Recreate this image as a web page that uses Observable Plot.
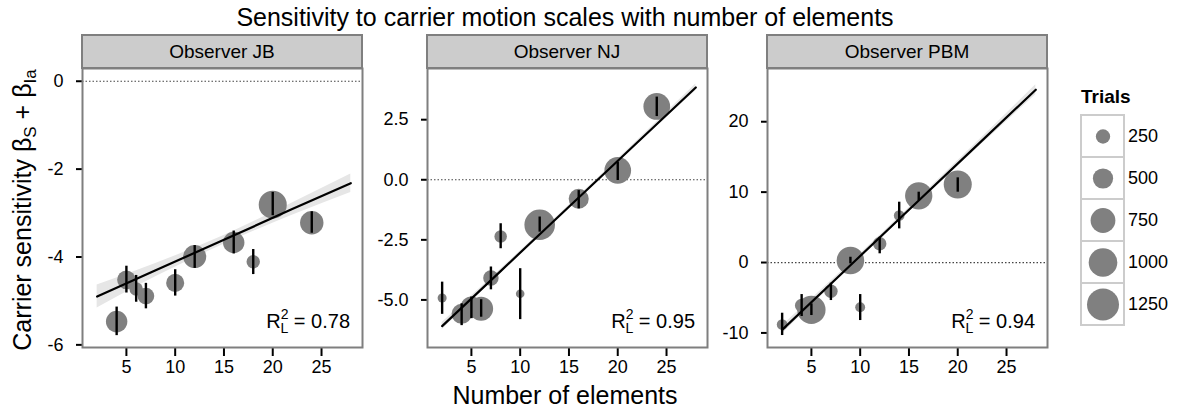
<!DOCTYPE html>
<html>
<head>
<meta charset="utf-8">
<script src="https://cdn.jsdelivr.net/npm/d3@7"></script>
<script src="https://cdn.jsdelivr.net/npm/@observablehq/plot@0.6"></script>
<style>
  html, body { margin: 0; padding: 0; background: #fff; }
  #wrap { position: relative; width: 1177px; height: 411px; overflow: hidden; font-family: "Liberation Sans", Arial, Helvetica, sans-serif; color: #000; }
  .abs { position: absolute; }
  #title { left: 0; width: 1130px; top: 3px; text-align: center; font-size: 25px; line-height: 28px; white-space: nowrap; }
  #xtitle { left: 0; width: 1130px; top: 381px; text-align: center; font-size: 25px; line-height: 28px; white-space: nowrap; }
  #ytitle { left: 22px; top: 210px; transform: translate(-50%, -50%) rotate(-90deg); font-size: 25px; line-height: 28px; white-space: nowrap; }
  #ytitle sub { font-size: 17px; vertical-align: -5px; line-height: 0; }
  #legtitle { left: 1081px; top: 86px; font-size: 19px; font-weight: bold; line-height: 22px; }
</style>
</head>
<body>
<div id="wrap">
  <div id="title" class="abs">Sensitivity to carrier motion scales with number of elements</div>
  <div id="xtitle" class="abs">Number of elements</div>
  <div id="ytitle" class="abs">Carrier sensitivity β<sub>S</sub> + β<sub>Ia</sub></div>
  <div id="legtitle" class="abs">Trials</div>
</div>
<script>
// ---------- data ----------
const observers = ["Observer JB", "Observer NJ", "Observer PBM"];
const r2Values = ["0.78", "0.95", "0.94"];

const jbElements = [4, 5, 6, 7, 10, 12, 16, 18, 20, 24];
const jbSens     = [-5.47, -4.52, -4.73, -4.89, -4.59, -3.99, -3.67, -4.11, -2.81, -3.22];
const jbLo       = [-5.79, -4.82, -5.03, -5.18, -4.89, -4.26, -3.93, -4.40, -3.06, -3.46];
const jbHi       = [-5.14, -4.21, -4.42, -4.60, -4.29, -3.74, -3.41, -3.83, -2.53, -2.97];
const jbTrials   = [560, 420, 220, 340, 400, 650, 560, 220, 960, 670];

const njElements = [2, 4, 5, 6, 7, 8, 10, 12, 16, 20, 24];
const njSens     = [-4.92, -5.58, -5.30, -5.37, -4.09, -2.36, -4.74, -1.87, -0.79, 0.39, 3.05];
const njLo       = [-5.60, -6.07, -5.78, -5.72, -4.58, -2.87, -5.82, -2.18, -1.21, -0.03, 2.63];
const njHi       = [-4.26, -5.16, -4.88, -4.99, -3.63, -1.83, -3.70, -1.55, -0.45, 0.73, 3.44];
const njTrials   = [100, 490, 560, 700, 290, 190, 90, 1140, 490, 870, 870];

const pbmElements = [2, 4, 5, 7, 9, 10, 12, 14, 16, 20];
const pbmSens     = [-8.81, -6.11, -6.72, -4.07, 0.28, -6.35, 2.66, 6.68, 9.47, 11.08];
const pbmLo       = [-10.37, -7.67, -7.53, -5.40, -0.19, -8.24, 1.24, 4.78, 8.81, 9.99];
const pbmHi       = [-7.20, -4.55, -5.87, -2.94, 0.75, -4.55, 3.60, 8.57, 9.99, 12.03];
const pbmTrials   = [140, 220, 980, 220, 930, 120, 220, 140, 910, 960];

// fitted lines with confidence band
const fitElements = [2, 8, 15, 22, 28];
const jbFit   = [-4.90, -4.30, -3.61, -2.91, -2.32];
const jbFitLo = [-5.16, -4.45, -3.71, -3.05, -2.53];
const jbFitHi = [-4.64, -4.15, -3.51, -2.77, -2.11];
const njFit   = [-6.09, -3.80, -1.12, 1.55, 3.84];
const njFitLo = [-6.24, -3.88, -1.18, 1.47, 3.70];
const njFitHi = [-5.94, -3.72, -1.06, 1.63, 3.98];
const pbmFit   = [-9.57, -1.70, 7.49, 16.67, 24.54];
const pbmFitLo = [-10.17, -2.05, 7.19, 16.22, 23.84];
const pbmFitHi = [-8.97, -1.35, 7.79, 17.12, 25.24];

const xTicks = [5, 10, 15, 20, 25];
const jbYTicks = [0, -2, -4, -6];
const njYTicks = [2.5, 0, -2.5, -5];
const pbmYTicks = [20, 10, 0, -10];
const legendTrials = [250, 500, 750, 1000, 1250];

// ---------- build tables ----------
function pts(el, s, lo, hi, tr) { return el.map((e, i) => ({e, s: s[i], lo: lo[i], hi: hi[i], n: tr[i]})); }
function fit(y, lo, hi) { return fitElements.map((e, i) => ({e, y: y[i], lo: lo[i], hi: hi[i]})); }

const panels = [
  {name: observers[0], r2: r2Values[0], points: pts(jbElements, jbSens, jbLo, jbHi, jbTrials), fit: fit(jbFit, jbFitLo, jbFitHi),
   yDomain: [-6.06, 0.29], yTicks: jbYTicks, fmt: d => String(d), left: 82},
  {name: observers[1], r2: r2Values[1], points: pts(njElements, njSens, njLo, njHi, njTrials), fit: fit(njFit, njFitLo, njFitHi),
   yDomain: [-6.98, 4.63], yTicks: njYTicks, fmt: d => d.toFixed(1), left: 427},
  {name: observers[2], r2: r2Values[2], points: pts(pbmElements, pbmSens, pbmLo, pbmHi, pbmTrials), fit: fit(pbmFit, pbmFitLo, pbmFitHi),
   yDomain: [-12.07, 27.56], yTicks: pbmYTicks, fmt: d => String(d), left: 767}
];

const FONT = "Liberation Sans, Arial, Helvetica, sans-serif";
const ML = 70, MR = 2, MT = 35, MB = 40, PW = 280, PH = 279;
const rScale = {type: "sqrt", domain: [0, 1250], range: [0, 16]};

const wrap = document.getElementById("wrap");

panels.forEach(p => {
  const strip = (index, scales, values, dims) => {
    const g = d3.create("svg:g");
    g.append("rect")
      .attr("x", dims.marginLeft).attr("y", 2)
      .attr("width", dims.width - dims.marginLeft - dims.marginRight)
      .attr("height", dims.marginTop - 2)
      .attr("fill", "#cccccc").attr("stroke", "#7f7f7f").attr("stroke-width", 2);
    g.append("text")
      .attr("x", dims.marginLeft + (dims.width - dims.marginLeft - dims.marginRight) / 2)
      .attr("y", 2 + (dims.marginTop - 2) / 2)
      .attr("dy", "0.35em")
      .attr("text-anchor", "middle")
      .attr("font-size", 19).attr("fill", "black")
      .text(p.name);
    return g.node();
  };
  const r2label = (index, scales, values, dims) => {
    const t = d3.create("svg:text")
      .attr("x", dims.width - dims.marginRight - 12)
      .attr("y", dims.height - dims.marginBottom - 19)
      .attr("text-anchor", "end").attr("font-size", 20).attr("fill", "black");
    t.append("tspan").text("R");
    t.append("tspan").attr("font-size", 14).attr("dy", -9).text("2");
    t.append("tspan").attr("font-size", 14).attr("dx", -8).attr("dy", 14).text("L");
    t.append("tspan").attr("dy", -5).text(" = " + p.r2);
    return t.node();
  };

  const chart = Plot.plot({
    width: ML + PW + MR, height: MT + PH + MB,
    marginLeft: ML, marginRight: MR, marginTop: MT, marginBottom: MB,
    style: {fontFamily: FONT, fontSize: "18px", color: "black", background: "transparent", overflow: "visible"},
    x: {domain: [0.5, 29.2]},
    y: {domain: p.yDomain},
    r: rScale,
    marks: [
      Plot.areaY(p.fit, {x: "e", y1: "lo", y2: "hi", fill: "#e6e6e6", curve: "monotone-x"}),
      Plot.ruleY([0], {stroke: "#444", strokeWidth: 1.2, strokeDasharray: "1.5,2"}),
      Plot.dot(p.points, {x: "e", y: "s", r: "n", fill: "#808080", stroke: "none"}),
      Plot.ruleX(p.points, {x: "e", y1: "lo", y2: "hi", stroke: "black", strokeWidth: 2.4}),
      Plot.line(p.fit, {x: "e", y: "y", stroke: "black", strokeWidth: 2.2}),
      Plot.axisX({ticks: xTicks, tickSize: 9, tickPadding: 4, strokeWidth: 2, label: null, fontSize: 18}),
      Plot.axisY({ticks: p.yTicks, tickFormat: p.fmt, tickSize: 6, tickPadding: 13, strokeWidth: 2, label: null, fontSize: 18}),
      Plot.frame({stroke: "#7f7f7f", strokeWidth: 2}),
      strip,
      r2label
    ]
  });
  chart.style.position = "absolute";
  chart.style.left = (p.left - ML) + "px";
  chart.style.top = (68 - MT) + "px";
  wrap.appendChild(chart);
});

// ---------- legend ----------
const legend = Plot.plot({
  width: 100, height: 216,
  marginLeft: 0, marginRight: 0, marginTop: 1, marginBottom: 1,
  style: {fontFamily: FONT, fontSize: "18px", color: "black", background: "transparent", overflow: "visible"},
  x: {type: "band", domain: ["key"], range: [11, 54], padding: 0, axis: null},
  y: {type: "band", domain: legendTrials, padding: 0, axis: null},
  r: rScale,
  marks: [
    Plot.cell(legendTrials, {x: () => "key", y: d => d, fill: "white", stroke: "#cccccc", strokeWidth: 2}),
    Plot.dot(legendTrials, {x: () => "key", y: d => d, r: d => d, fill: "#808080"}),
    Plot.text(legendTrials, {x: () => "key", y: d => d, text: d => String(d), dx: 25, textAnchor: "start", fontSize: 18, fill: "black"})
  ]
});
legend.style.position = "absolute";
legend.style.left = "1070px";
legend.style.top = "112px";
wrap.appendChild(legend);
</script>
</body>
</html>
